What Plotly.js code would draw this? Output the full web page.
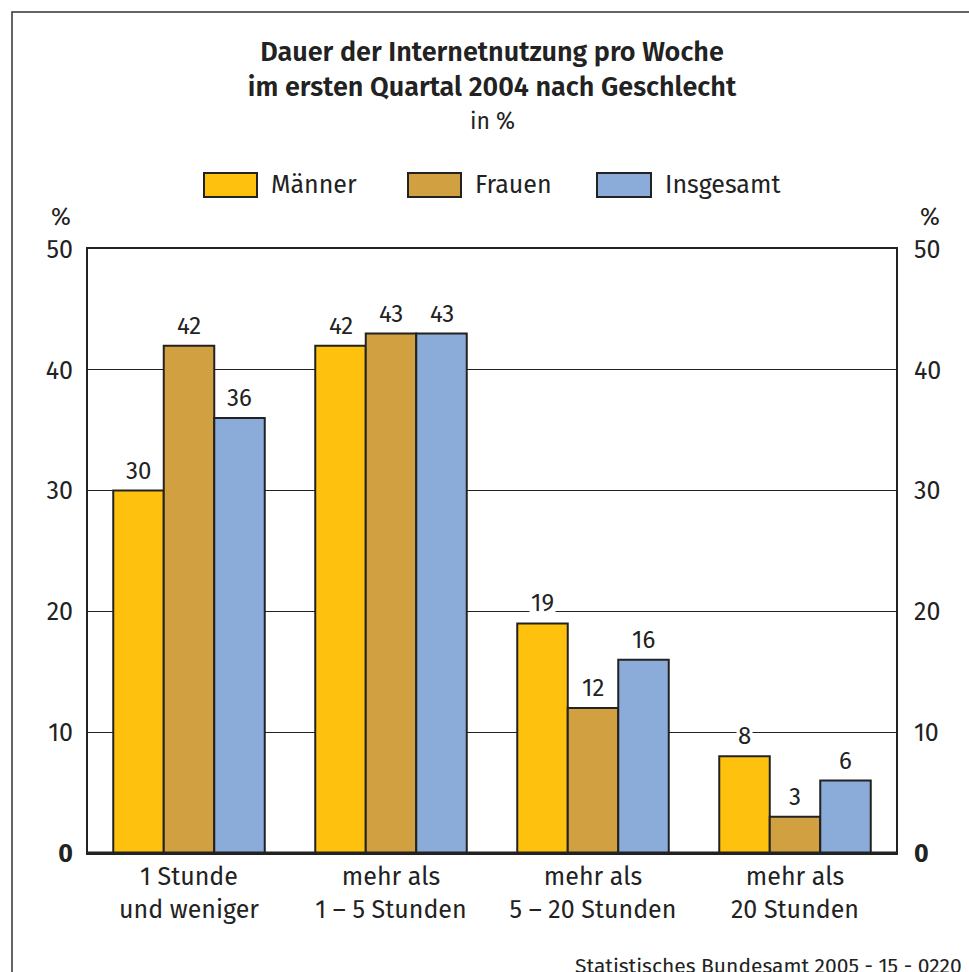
<!DOCTYPE html>
<html>
<head>
<meta charset="utf-8">
<script src="https://cdn.plot.ly/plotly-3.0.1.min.js"></script>
<style>html,body{margin:0;padding:0;background:#fff;}#chart{width:969px;height:972px;}</style>
</head>
<body>
<div id="chart"></div>
<script>
var categories = ["1 Stunde<br>und weniger", "mehr als<br>1 – 5 Stunden", "mehr als<br>5 – 20 Stunden", "mehr als<br>20 Stunden"];
var seriesNames = ["Männer", "Frauen", "Insgesamt"];
var maenner = [30, 42, 19, 8];
var frauen = [42, 43, 12, 3];
var insgesamt = [36, 43, 16, 6];
var yTickVals = [0, 10, 20, 30, 40, 50];
var yTickText = ["<b>0</b>", "10", "20", "30", "40", "50"];
var titleText = "Dauer der Internetnutzung pro Woche<br>im ersten Quartal 2004 nach Geschlecht";
var subtitleText = "in %";
var sourceText = "Statistisches Bundesamt 2005 - 15 - 0220";

var colors = ["#FEC20E", "#D1A141", "#8BACD9"];
var FONT = "Fira Sans, Noto Sans, Open Sans, sans-serif";
var TXT = "#222";
var FS = 25;
var W = 969, H = 972, ML = 88, MR = 73, MT = 249, MB = 119;
var PW = W - ML - MR, PH = H - MT - MB;
function px(x) { return (x - ML) / PW; }
function py(y) { return (H - MB - y) / PH; }

var allSeries = [maenner, frauen, insgesamt];
var traces = allSeries.map(function (vals, i) {
  return {
    type: "bar", name: seriesNames[i], x: categories, y: vals,
    marker: { color: colors[i], line: { color: "#222", width: 2 } },
    hoverinfo: "y", showlegend: false
  };
});
traces.push({ type: "scatter", x: [categories[0]], y: [0], yaxis: "y2", mode: "markers",
  marker: { opacity: 0 }, showlegend: false, hoverinfo: "skip" });

var annotations = [];
allSeries.forEach(function (vals, s) {
  vals.forEach(function (v, c) {
    annotations.push({ x: c + (s - 1) * 0.25, y: v, xref: "x", yref: "y", text: String(v),
      showarrow: false, xanchor: "center", yanchor: "middle", yshift: 20, bgcolor: "#fff", borderpad: 1,
      font: { family: FONT, size: 24, color: TXT } });
  });
});
annotations.push({ xref: "paper", yref: "paper", x: 0.5, y: py(121), text: subtitleText, showarrow: false,
  xanchor: "center", yanchor: "middle", font: { family: FONT, size: 23, color: TXT } });
annotations.push({ xref: "paper", yref: "paper", x: px(61), y: py(217), text: "%", showarrow: false,
  xanchor: "center", yanchor: "middle", font: { family: FONT, size: 24, color: TXT } });
annotations.push({ xref: "paper", yref: "paper", x: px(930), y: py(217), text: "%", showarrow: false,
  xanchor: "center", yanchor: "middle", font: { family: FONT, size: 24, color: TXT } });
annotations.push({ xref: "paper", yref: "paper", x: px(964), y: py(951), text: sourceText, showarrow: false,
  xanchor: "right", yanchor: "top", font: { family: FONT, size: 21, color: TXT } });

var legendBoxes = [[204, 257], [408, 461], [597, 651]];
var legendText = [269, 473, 663];
var shapes = [{ type: "rect", xref: "paper", yref: "paper", x0: px(12), x1: 1.3, y0: -0.4, y1: py(12),
  line: { color: "#333", width: 1.5 }, fillcolor: "rgba(0,0,0,0)", layer: "below" }];
seriesNames.forEach(function (n, i) {
  shapes.push({ type: "rect", xref: "paper", yref: "paper", x0: px(legendBoxes[i][0]), x1: px(legendBoxes[i][1]),
    y0: py(197), y1: py(173), fillcolor: colors[i], line: { color: "#222", width: 2 } });
  annotations.push({ xref: "paper", yref: "paper", x: px(legendText[i]), y: py(185), text: n, showarrow: false,
    xanchor: "left", yanchor: "middle", font: { family: FONT, size: FS, color: TXT } });
});
shapes.push({ type: "line", xref: "paper", yref: "y", x0: 0, x1: 1, y0: 0, y1: 0, line: { color: "#222", width: 3 } });

var yax = { range: [0, 50], tickvals: yTickVals, ticktext: yTickText, showgrid: true, gridcolor: "#222", gridwidth: 1,
  zeroline: false, showline: true, linecolor: "#222", linewidth: 2, mirror: true,
  ticks: "outside", ticklen: 8, tickcolor: "rgba(0,0,0,0)", tickfont: { family: FONT, size: FS, color: TXT }, fixedrange: true };
var layout = {
  width: W, height: H, margin: { l: ML, r: MR, t: MT, b: MB }, paper_bgcolor: "#fff", plot_bgcolor: "#fff",
  barmode: "group", bargap: 0.25, bargroupgap: 0,
  title: { text: titleText, x: 0.5, xref: "paper", xanchor: "center", y: 1 - 61 / H, yref: "container", yanchor: "middle",
    font: { family: FONT, size: 27, color: TXT, weight: 600 } },
  xaxis: { type: "category", range: [-0.5, 3.5], showline: true, linecolor: "#222", linewidth: 2, mirror: true,
    ticks: "", tickfont: { family: FONT, size: FS, color: TXT }, fixedrange: true },
  yaxis: yax,
  yaxis2: Object.assign({}, yax, { overlaying: "y", side: "right", showgrid: false, showline: false, ticklen: 12 }),
  annotations: annotations, shapes: shapes, showlegend: false
};
Plotly.newPlot("chart", traces, layout, { displayModeBar: false, staticPlot: true });
</script>
</body>
</html>
